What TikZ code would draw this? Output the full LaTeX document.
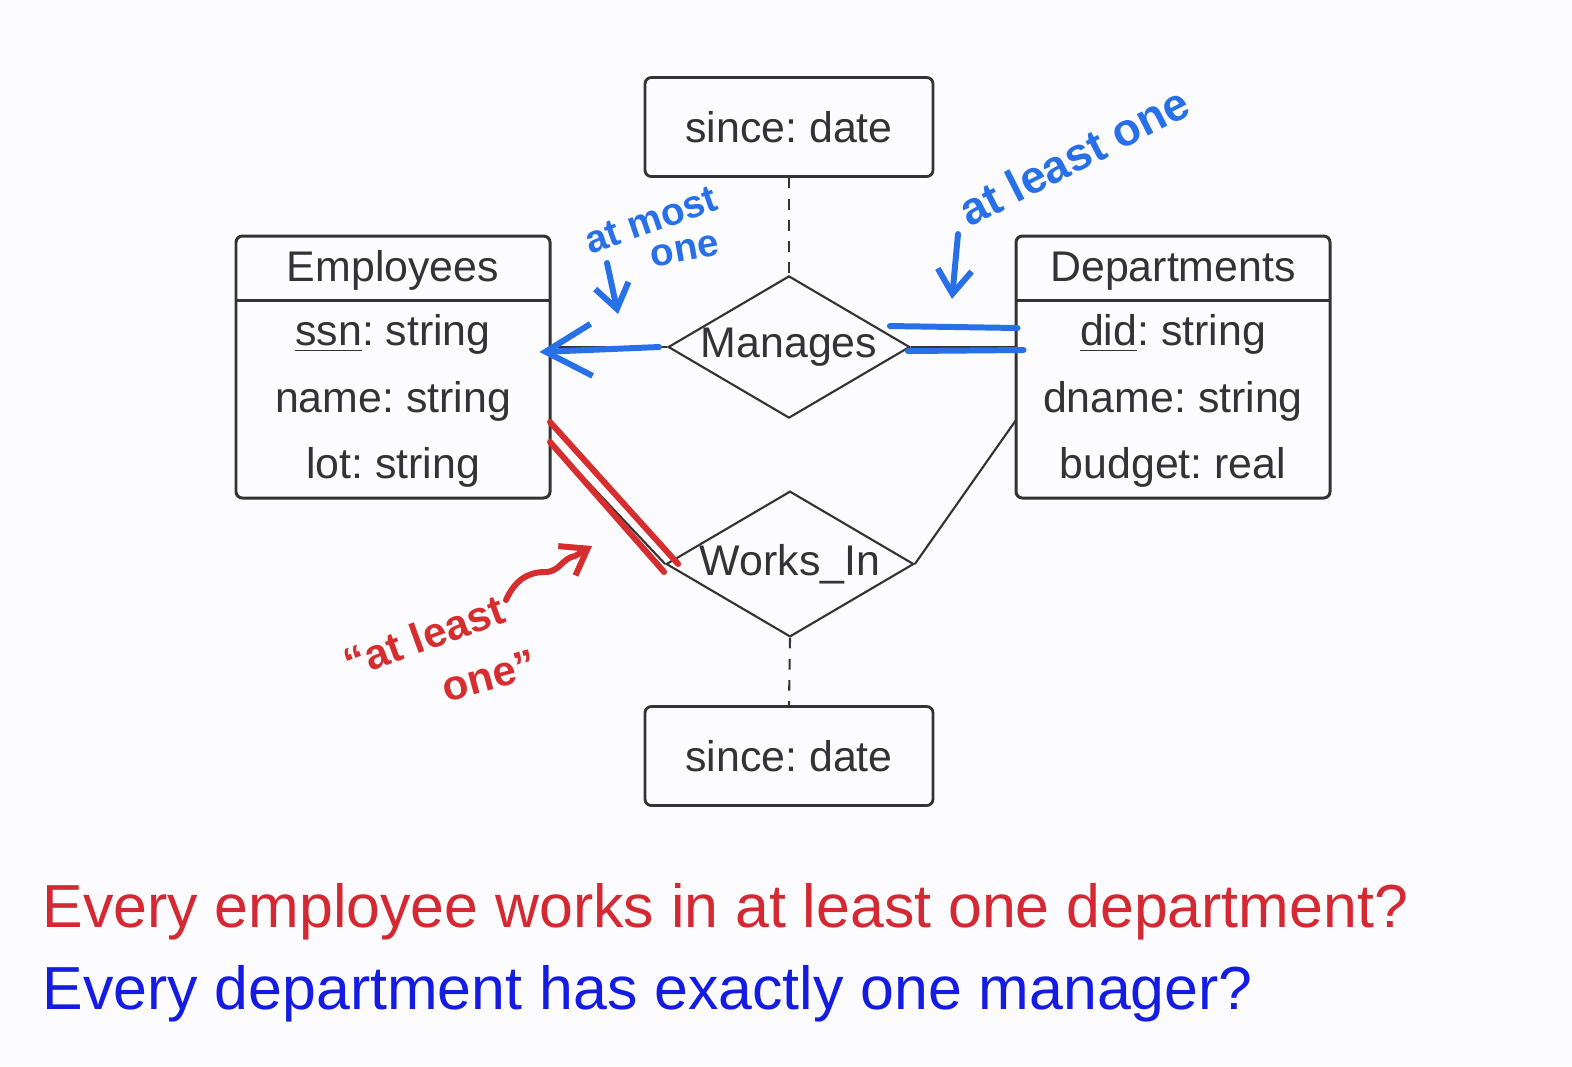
\documentclass[tikz,border=0pt]{standalone}
\usepackage{fontspec}
\setmainfont{Liberation Sans}
\usepackage{tikz}
\usetikzlibrary{shapes.geometric,arrows.meta}
\frenchspacing

\definecolor{ink}{RGB}{51,51,51}
\definecolor{penblue}{RGB}{40,112,232}
\definecolor{penred}{RGB}{214,46,46}
\definecolor{qred}{RGB}{212,40,50}
\definecolor{qblue}{RGB}{20,28,226}
\definecolor{paper}{RGB}{252,251,254}

\newcommand{\erfont}{\fontsize{12.2}{14}\selectfont}
\newcommand{\qfont}{\fontsize{17.3}{20}\selectfont}

\tikzset{
  entity/.style={draw=ink,line width=0.85pt,rounded corners=1.8pt,minimum width=31.4mm,minimum height=26.2mm},
  attrbox/.style={draw=ink,line width=0.8pt,rounded corners=1.8pt,minimum width=28.8mm,minimum height=9.9mm,font=\erfont,text=ink},
  relship/.style={diamond,draw=ink,line width=0.6pt,inner sep=0pt,aspect=1.7,minimum width=23.6mm,minimum height=14.1mm,font=\erfont,text=ink},
  field/.style={text=ink,font=\erfont,inner sep=0pt,anchor=base},
  pen/.style={line width=1.7pt,line cap=round,line join=round},
  note/.style={font=\bfseries\fontsize{#1}{#1}\selectfont,inner sep=0pt},
  barb/.style={-{Straight Barb[length=2.4mm,width=3.4mm]}},
}

\begin{document}
\begin{tikzpicture}[x=0.1mm,y=-0.1mm]
    \fill[paper] (0,0) rectangle (1572,1066);
    \useasboundingbox (0,0) rectangle (1572,1066);

    % entities
    \node[entity] (emp) at (393,367) {};
    \draw[ink,line width=0.85pt] (236,300) -- (550,300);
    \node[field] (empt) at (393,281) {Employees};
    \node[field] (ssn) at (393,345) {\underline{ssn}: string};
    \node[field] (ename) at (393,412) {name: string};
    \node[field] (lot) at (393,478) {lot: string};

    \node[entity] (dept) at (1173,367) {};
    \draw[ink,line width=0.85pt] (1016,300) -- (1330,300);
    \node[field] (deptt) at (1173,281) {Departments};
    \node[field] (did) at (1173,345) {\underline{did}: string};
    \node[field] (dname) at (1173,412) {dname: string};
    \node[field] (budget) at (1173,478) {budget: real};

    % relationships and their attributes
    \node[relship] (man) at (789,347) {Manages};
    \node[relship] (works) at (790,564) {Works\_In};
    \node[attrbox] (since1) at (789,127) {since: date};
    \node[attrbox] (since2) at (789,756) {since: date};

    \coordinate (empw) at (550,442);
    \coordinate (deptw) at (1016,420);
    \draw[ink,line width=0.6pt,dashed] (since1.south) -- (man.north);
    \draw[ink,line width=0.6pt,dashed] (works.south) -- (since2.north);
    \draw[ink,line width=0.6pt] (man.west) -- (man.west -| emp.east);
    \draw[ink,line width=0.6pt] (man.east) -- (man.east -| dept.west);
    \draw[ink,line width=0.6pt] (empw) -- (works.west);
    \draw[ink,line width=0.6pt] (works.east) -- (deptw);

    % blue pen: Manages
    \draw[pen,penblue,-{Straight Barb[length=4.6mm,width=5.2mm]}] ([xshift=-0.8mm]man.west) -- ([xshift=-1.2mm,yshift=-0.5mm]man.west -| emp.east);
    \draw[pen,penblue] ([xshift=-2.1mm,yshift=2.1mm]man.east) -- ([xshift=0.3mm,yshift=1.9mm]man.east -| dept.west);
    \draw[pen,penblue] ([xshift=-0.3mm,yshift=-0.4mm]man.east) -- ([xshift=0.9mm,yshift=-0.3mm]man.east -| dept.west);

    \node[note=11,penblue,rotate=19] (most) at (651,220) {at most};
    \node[note=11,penblue,rotate=10] (mostone) at (685,251) {one};
    \coordinate (mosttail) at (607,263);
    \coordinate (mosthead) at (618,314);
    \draw[pen,penblue,barb] (mosttail) -- (mosthead);

    \node[note=13,penblue,rotate=27] (least) at (1074,156) {at least one};
    \coordinate (leasttail) at (958,234);
    \coordinate (leasthead) at (952,299);
    \draw[pen,penblue,barb] (leasttail) -- (leasthead);

    % red pen: Works_In
    \draw[pen,penred] ([yshift=2.0mm]empw) -- ([xshift=1.3mm]works.west);
    \draw[pen,penred] (empw) -- ([xshift=-0.1mm,yshift=-0.8mm]works.west);

    \node[note=12,penred,rotate=20] (redleast) at (424,636) {“at least};
    \node[note=12,penred,rotate=15] (redone) at (489,676) {one”};
    \coordinate (sqtail) at (506,600);
    \coordinate (sqhead) at (592,546);
    \draw[pen,penred,barb] (sqtail) .. controls (515,580) and (528,572) .. (545,572)
        .. controls (560,572) and (562,558) .. (575,556) -- (sqhead);

    % questions
    \node[anchor=base west,inner sep=0pt,font=\qfont,text=qred] (q1) at (42,927) {Every employee works in at least one department?};
    \node[anchor=base west,inner sep=0pt,font=\qfont,text=qblue] (q2) at (42,1009) {Every department has exactly one manager?};
\end{tikzpicture}
\end{document}
